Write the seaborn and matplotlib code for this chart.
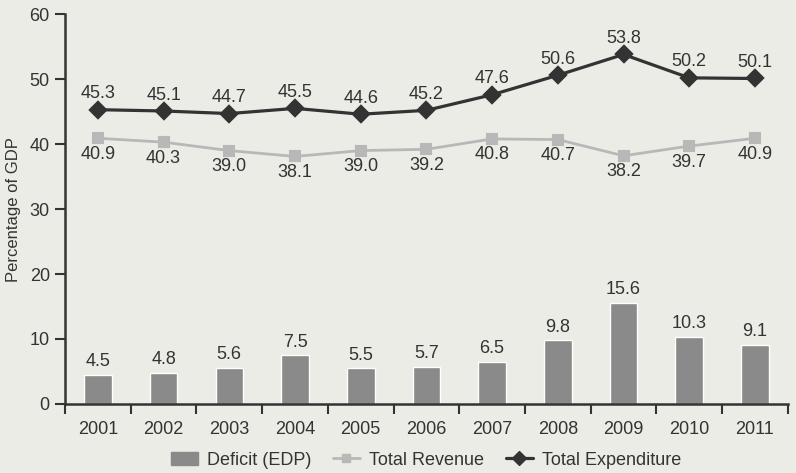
import matplotlib
matplotlib.use("Agg")
import matplotlib.pyplot as plt
import seaborn as sns
import pandas as pd
from matplotlib.lines import Line2D
from matplotlib.patches import Patch

years = ["2001", "2002", "2003", "2004", "2005", "2006", "2007", "2008", "2009", "2010", "2011"]
deficit = [4.5, 4.8, 5.6, 7.5, 5.5, 5.7, 6.5, 9.8, 15.6, 10.3, 9.1]
revenue = [40.9, 40.3, 39.0, 38.1, 39.0, 39.2, 40.8, 40.7, 38.2, 39.7, 40.9]
expenditure = [45.3, 45.1, 44.7, 45.5, 44.6, 45.2, 47.6, 50.6, 53.8, 50.2, 50.1]

BG = "#ecece6"
BAR = "#8a8a8a"
REV = "#b8b8b8"
EXP = "#333333"
TXT = "#333333"

sns.set_theme(style="ticks")
plt.rcParams["font.family"] = ["Liberation Sans", "DejaVu Sans"]
plt.rcParams["text.color"] = TXT

df = pd.DataFrame({"year": years, "deficit": deficit, "revenue": revenue, "expenditure": expenditure})

fig = plt.figure(figsize=(7.96, 4.73), dpi=100, facecolor=BG)
ax = fig.add_axes([0.0817, 0.146, 0.908, 0.824])
ax.set_facecolor(BG)

sns.barplot(data=df, x="year", y="deficit", color=BAR, saturation=1, width=0.42, ax=ax, zorder=2)
sns.pointplot(data=df, x="year", y="revenue", color=REV, markers="s", markersize=7.5, linewidth=2, ax=ax, zorder=3)
sns.pointplot(data=df, x="year", y="expenditure", color=EXP, markers="D", markersize=8, linewidth=2.3, ax=ax, zorder=4)

fs = 13
for i, v in enumerate(deficit):
    ax.annotate(f"{v:.1f}", (i, v), xytext=(0, 9.5), textcoords="offset points", ha="center", va="center", fontsize=fs, color=TXT)
for i, v in enumerate(revenue):
    ax.annotate(f"{v:.1f}", (i, v), xytext=(0, -11.5), textcoords="offset points", ha="center", va="center", fontsize=fs, color=TXT)
for i, v in enumerate(expenditure):
    ax.annotate(f"{v:.1f}", (i, v), xytext=(0, 11.5), textcoords="offset points", ha="center", va="center", fontsize=fs, color=TXT)

ax.set_xlim(-0.5, 10.5)
ax.set_ylim(0, 60)
ax.set_yticks(range(0, 61, 10))
ax.set_xticks(range(11))
ax.set_xticks([i - 0.5 for i in range(12)], minor=True)
ax.tick_params(axis="x", which="major", length=0, labelsize=fs, colors=TXT, pad=12)
ax.tick_params(axis="x", which="minor", length=7, width=1.5, color="#333333", direction="out")
ax.tick_params(axis="y", length=7, width=1.5, color="#333333", labelsize=fs, labelcolor=TXT, pad=4)
ax.set_xlabel("")
ax.set_ylabel("Percentage of GDP", fontsize=12, color=TXT, labelpad=6)
for s in ["top", "right"]:
    ax.spines[s].set_visible(False)
for s in ["left", "bottom"]:
    ax.spines[s].set_color("#333333")
    ax.spines[s].set_linewidth(1.8)
ax.grid(False)

handles = [
    Patch(facecolor=BAR, edgecolor=BAR),
    Line2D([], [], color=REV, marker="s", markersize=6, linewidth=2),
    Line2D([], [], color=EXP, marker="D", markersize=7, linewidth=2.3),
]
labels = ["Deficit (EDP)", "Total Revenue", "Total Expenditure"]
fig.legend(handles, labels, loc="lower center", bbox_to_anchor=(0.535, -0.025), ncol=3, frameon=False,
           fontsize=fs, handlelength=1.5, handletextpad=0.5, columnspacing=1.2)

fig.savefig("out.png", dpi=100, facecolor=BG)
